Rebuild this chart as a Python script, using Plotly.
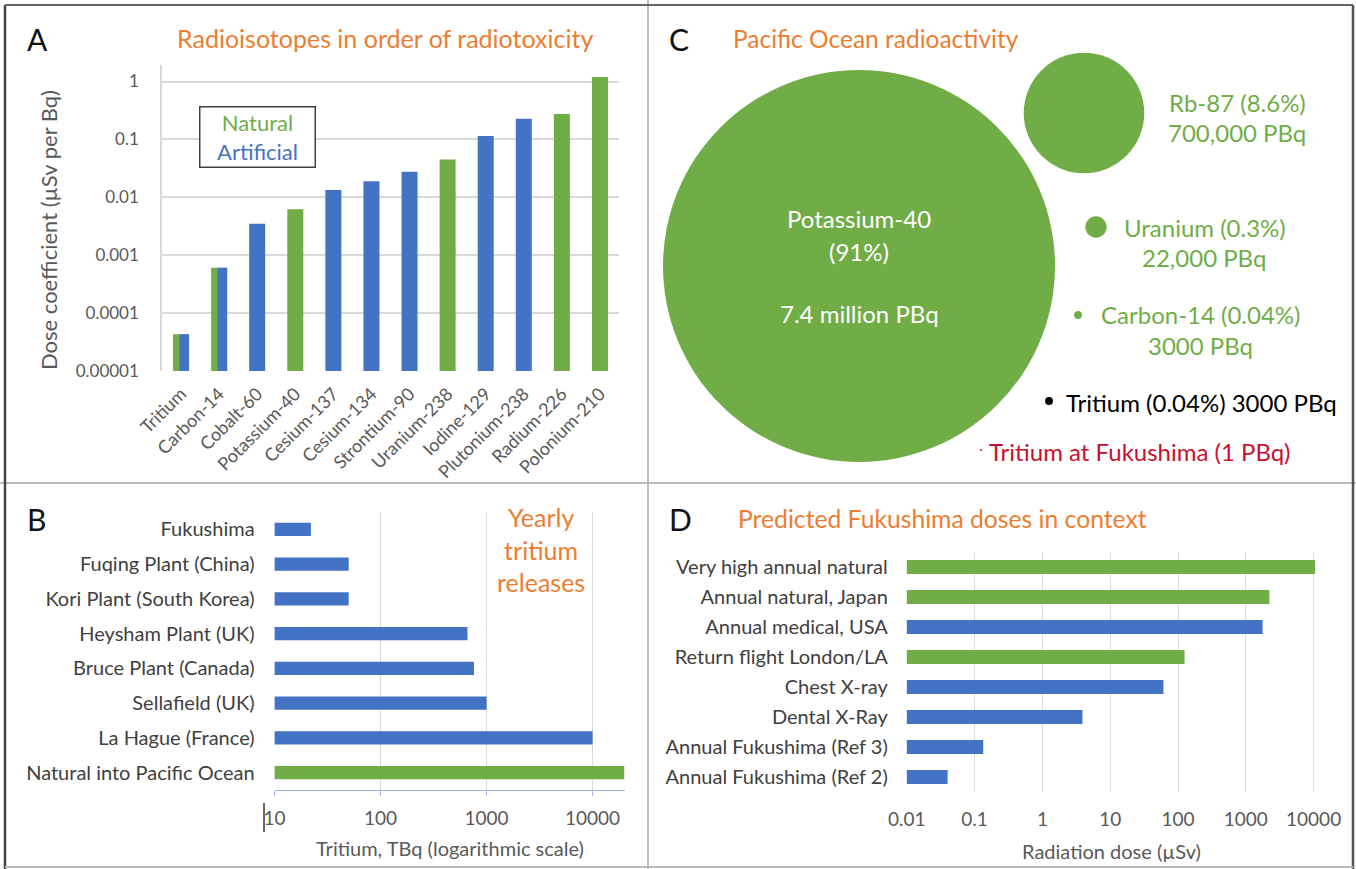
import numpy as np
import plotly.graph_objects as go

W, H = 1356, 869
def X(px): return px / W
def Y(py): return 1 - py / H

GREEN = "#70AD47"
BLUE = "#4472C4"
ORANGE = "#ED7D31"
RED = "#C8102E"
GRID = "#D9D9D9"
TXT = "#595959"
FONT = "Lato"

# ---------------- Panel A data ----------------
isotopes = ["Tritium", "Carbon-14", "Cobalt-60", "Potassium-40", "Cesium-137", "Cesium-134",
            "Strontium-90", "Uranium-238", "Iodine-129", "Plutonium-238", "Radium-226", "Polonium-210"]
dose_coeff = [4.3e-5, 6.1e-4, 3.5e-3, 6.2e-3, 0.0134, 0.019, 0.0277, 0.045, 0.114, 0.228, 0.275, 1.2]
is_natural = [True, True, False, True, False, False, False, True, False, False, True, True]
is_artificial = [True, True, True, False, True, True, True, False, True, True, False, False]
a_ticks = [1e-5, 1e-4, 1e-3, 1e-2, 0.1, 1]
a_ticktext = ["0.00001", "0.0001", "0.001", "0.01", "0.1", "1"]

# ---------------- Panel B data ----------------
sites = ["Fukushima", "Fuqing Plant (China)", "Kori Plant (South Korea)", "Heysham Plant (UK)",
         "Bruce Plant (Canada)", "Sellafield (UK)", "La Hague (France)", "Natural into Pacific Ocean"]
tritium_tbq = [22, 50, 50, 660, 760, 1000, 10000, 20000]
site_natural = [False, False, False, False, False, False, False, True]
b_ticks = [10, 100, 1000, 10000]

# ---------------- Panel C data ----------------
ocean_nuclides = ["Potassium-40", "Rb-87", "Uranium", "Carbon-14", "Tritium", "Tritium at Fukushima"]
ocean_pbq = [7.4e6, 7.0e5, 22000, 3000, 3000, 1]

# ---------------- Panel D data ----------------
dose_items = ["Very high annual natural", "Annual natural, Japan", "Annual medical, USA",
              "Return flight London/LA", "Chest X-ray", "Dental X-Ray",
              "Annual Fukushima (Ref 3)", "Annual Fukushima (Ref 2)"]
dose_usv = [10500, 2230, 1770, 125, 61, 3.9, 0.134, 0.04]
dose_natural = [True, True, False, True, False, False, False, False]
d_ticks = [0.01, 0.1, 1, 10, 100, 1000, 10000]
d_ticktext = ["0.01", "0.1", "1", "10", "100", "1000", "10000"]

fig = go.Figure()

# ---- Panel A bars (overlay: green full, blue on top; split bars for both-origin isotopes)
BW = 0.42
nat_x = [c for c, n in zip(isotopes, is_natural) if n]
nat_y = [v for v, n in zip(dose_coeff, is_natural) if n]
fig.add_trace(go.Bar(x=nat_x, y=nat_y, marker_color=GREEN, marker_line_width=0, width=BW,
                     offset=-BW / 2, xaxis="x", yaxis="y", showlegend=False))
art_x, art_y, art_w, art_o = [], [], [], []
for c, v, n, a in zip(isotopes, dose_coeff, is_natural, is_artificial):
    if a:
        art_x.append(c); art_y.append(v)
        if n:
            art_o.append(-BW / 2 + 0.4 * BW); art_w.append(0.6 * BW)
        else:
            art_o.append(-BW / 2); art_w.append(BW)
fig.add_trace(go.Bar(x=art_x, y=art_y, marker_color=BLUE, marker_line_width=0, width=art_w,
                     offset=art_o, xaxis="x", yaxis="y", showlegend=False))

# ---- Panel B bars
fig.add_trace(go.Bar(y=sites, x=tritium_tbq, orientation="h", width=0.38, marker_line_width=0,
                     marker_color=[GREEN if n else BLUE for n in site_natural],
                     xaxis="x2", yaxis="y2", showlegend=False))

# ---- Panel D bars
fig.add_trace(go.Bar(y=dose_items, x=dose_usv, orientation="h", width=0.47, marker_line_width=0,
                     marker_color=[GREEN if n else BLUE for n in dose_natural],
                     xaxis="x3", yaxis="y3", showlegend=False))

# ---- Panel C bubbles (diameter proportional to sqrt of activity)
c_pos = [(859, 266), (1084, 113), (1096, 227), (1078, 315), (1049, 401), (981, 450)]
c_col = [GREEN, GREEN, GREEN, GREEN, "#000000", RED]
DMAX = 392
diam = [max(DMAX * np.sqrt(v / max(ocean_pbq)), 2.0) for v in ocean_pbq]
fig.add_trace(go.Scatter(x=[p[0] for p in c_pos], y=[p[1] for p in c_pos], mode="markers",
                         marker=dict(size=diam, color=c_col, line=dict(width=0), opacity=1),
                         xaxis="x4", yaxis="y4", showlegend=False, hoverinfo="skip"))

fig.update_layout(
    width=W, height=H, margin=dict(l=0, r=0, t=0, b=0, autoexpand=False),
    paper_bgcolor="white", plot_bgcolor="rgba(0,0,0,0)",
    barmode="overlay", font=dict(family=FONT, color=TXT),
    xaxis=dict(domain=[X(162), X(619)], type="category", range=[-0.5, 11.5],
               categoryorder="array", categoryarray=isotopes, automargin=False,
               tickangle=-45, tickfont=dict(size=18, color=TXT), showgrid=False,
               showline=False, ticks="", anchor="y", ticklabelstandoff=8),
    yaxis=dict(domain=[Y(371), Y(65)], type="log", range=[-5, 0.285], tickvals=a_ticks,
               ticktext=a_ticktext, tickfont=dict(size=17, color=TXT), gridcolor=GRID,
               gridwidth=1.5, showline=True, linecolor=GRID, linewidth=1.5, ticks="",
               zeroline=False, anchor="x", ticklabelstandoff=18, automargin=False),
    xaxis2=dict(domain=[X(274.6), X(624.5)], type="log", range=[1, np.log10(20000)],
                tickvals=b_ticks, ticktext=["10", "100", "1000", "10000"],
                tickfont=dict(size=19, color=TXT), gridcolor=GRID, gridwidth=1,
                showline=True, linecolor="#9DB5E0", linewidth=1.2, ticks="outside",
                ticklen=5, tickcolor="#9DB5E0", anchor="y2", automargin=False,
                ticklabelstandoff=6),
    yaxis2=dict(domain=[Y(790), Y(512)], type="category", autorange="reversed",
                tickfont=dict(size=20, color="#404040"), showgrid=False, ticks="",
                anchor="x2", ticklabelstandoff=19, automargin=False),
    xaxis3=dict(domain=[X(906.8), X(906.8 + 67.8 * 6.03)], type="log", range=[-2, 4.03],
                tickvals=d_ticks, ticktext=d_ticktext, tickfont=dict(size=19, color=TXT),
                gridcolor=GRID, gridwidth=1, showline=False, ticks="", anchor="y3",
                ticklabelstandoff=14, automargin=False),
    yaxis3=dict(domain=[Y(792), Y(552)], type="category", autorange="reversed",
                tickfont=dict(size=20, color="#404040"), showgrid=False, ticks="",
                anchor="x3", ticklabelstandoff=18, automargin=False),
    xaxis4=dict(domain=[0, 1], range=[0, W], visible=False, anchor="y4", fixedrange=True,
                automargin=False),
    yaxis4=dict(domain=[0, 1], range=[H, 0], visible=False, anchor="x4", fixedrange=True,
                automargin=False),
)

ann = []
def txt(x, y, s, size, color, xanchor="center", **kw):
    ann.append(dict(x=X(x), y=Y(y), xref="paper", yref="paper", text=s, showarrow=False,
                    xanchor=xanchor, yanchor="middle", font=dict(size=size, color=color, family=FONT), **kw))

# Panel letters and titles
txt(25, 39, "A", 30, "#111111", xanchor="left")
txt(385, 38, "Radioisotopes in order of radiotoxicity", 25, ORANGE)
txt(667, 39, "C", 30, "#111111", xanchor="left")
txt(731, 38, "Pacific Ocean radioactivity", 24.5, ORANGE, xanchor="left")
txt(25, 519, "B", 30, "#111111", xanchor="left")
txt(667, 519, "D", 30, "#111111", xanchor="left")
txt(736, 518, "Predicted Fukushima doses in context", 24.7, ORANGE, xanchor="left")
txt(541, 549, "Yearly<br>tritium<br>releases", 25, ORANGE)

# axis titles
txt(450, 848, "Tritium, TBq (logarithmic scale)", 20, TXT)
txt(1111, 851, "Radiation dose (µSv)", 20, TXT)

# Panel A y title and legend box
ann.append(dict(x=X(48), y=Y(230), xref="paper", yref="paper", text="Dose coefficient (µSv per Bq)",
                textangle=-90, showarrow=False, xanchor="center", yanchor="middle",
                font=dict(size=22, color=TXT, family=FONT)))
ann.append(dict(x=X(257), y=Y(137), xref="paper", yref="paper", xanchor="center", yanchor="middle",
                text=f"<span style='color:{GREEN}'>Natural</span><br><span style='color:{BLUE}'>Artificial</span>",
                showarrow=False, font=dict(size=22, family=FONT), bordercolor="#404040", borderwidth=1.5,
                borderpad=1, width=112, height=57, bgcolor="white"))

# Panel C labels
CS = 24
txt(859, 218, "Potassium-40", CS, "white")
txt(859, 251, "(91%)", CS, "white")
txt(859, 313, "7.4 million PBq", CS, "white")
txt(1237, 102, "Rb-87 (8.6%)", CS, GREEN)
txt(1237, 133, "700,000 PBq", CS, GREEN)
txt(1205, 227, "Uranium (0.3%)", CS, GREEN)
txt(1204, 258, "22,000 PBq", CS, GREEN)
txt(1201, 315, "Carbon-14 (0.04%)", CS, GREEN)
txt(1200, 345, "3000 PBq", CS, GREEN)
txt(1064, 402, "Tritium (0.04%) 3000 PBq", CS, "#000000", xanchor="left")
txt(987, 451, "Tritium at Fukushima (1 PBq)", CS, RED, xanchor="left")

fig.update_layout(annotations=ann)

# Frame and panel dividers
shapes = [
    dict(type="line", xref="paper", yref="paper", x0=X(648), x1=X(648), y0=Y(0), y1=Y(869),
         line=dict(color="#BBBBBB", width=2)),
    dict(type="line", xref="paper", yref="paper", x0=X(0), x1=X(1356), y0=Y(483), y1=Y(483),
         line=dict(color="#BBBBBB", width=2)),
    dict(type="line", xref="paper", yref="paper", x0=X(5), x1=X(5), y0=Y(5), y1=Y(869),
         line=dict(color="#444444", width=2.5)),
    dict(type="line", xref="paper", yref="paper", x0=X(5), x1=X(1353), y0=Y(5), y1=Y(5),
         line=dict(color="#666666", width=2)),
    dict(type="line", xref="paper", yref="paper", x0=X(1353), x1=X(1353), y0=Y(5), y1=Y(869),
         line=dict(color="#555555", width=2.5)),
    dict(type="line", xref="paper", yref="paper", x0=X(5), x1=X(1353), y0=Y(867), y1=Y(867),
         line=dict(color="#BBBBBB", width=2)),
    # text caret near the "10" tick in panel B
    dict(type="line", xref="paper", yref="paper", x0=X(264), x1=X(264), y0=Y(803), y1=Y(832),
         line=dict(color="#333333", width=1.5)),
]
fig.update_layout(shapes=shapes)

fig.write_html("out.html", config={"displayModeBar": False},
               post_script="document.body.style.margin='0';document.body.style.overflow='hidden';")
